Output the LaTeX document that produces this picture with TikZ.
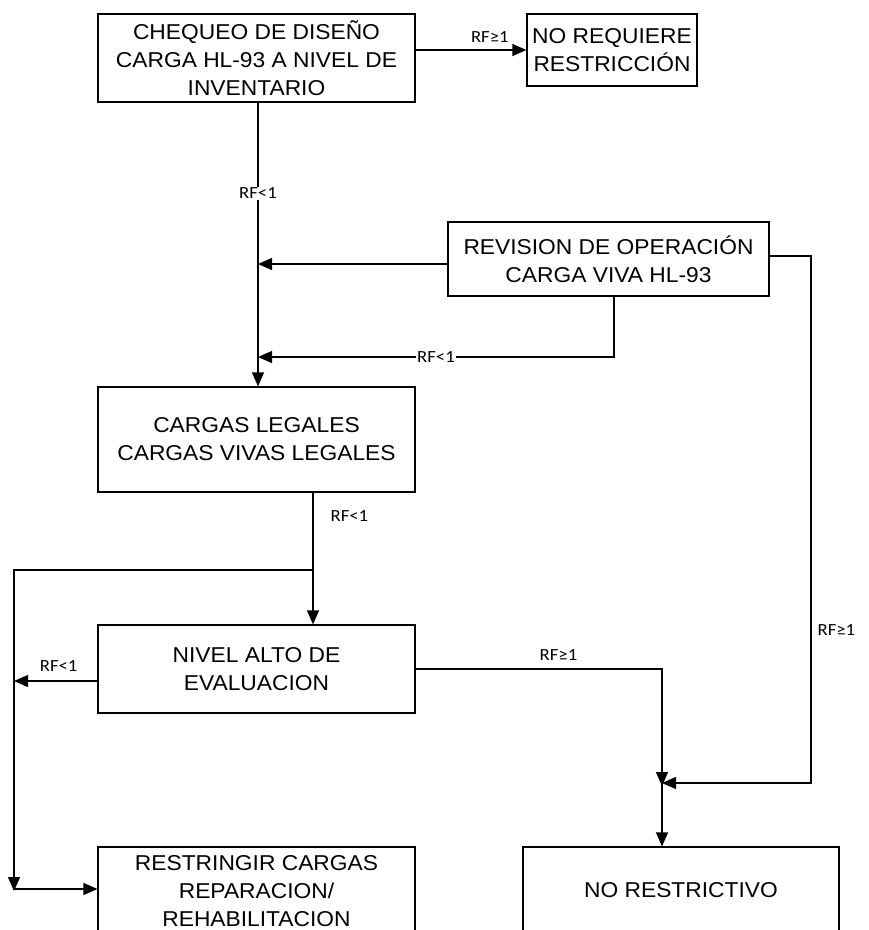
\documentclass[tikz,border=0pt]{standalone}
\usepackage{fontspec}
\setmainfont{Liberation Sans}
\newfontfamily\boxfont[FakeStretch=1.06]{Liberation Sans}
\newfontfamily\lblfont[FakeStretch=1.1]{Carlito}
\usetikzlibrary{arrows.meta}
\begin{document}
\begin{tikzpicture}[x=1pt,y=-1pt,line width=1.2pt,
  box/.style={draw,line width=1.2pt,inner sep=0pt,align=center,font=\boxfont\fontsize{21.5}{28}\selectfont},
  lbl/.style={font=\lblfont\fontsize{17}{17}\selectfont,inner sep=1pt},
  arr/.style={-{Triangle[length=14pt,width=12pt]}}]
\useasboundingbox (0,0) rectangle (869,930);
\clip (0,0) rectangle (869,930);
% boxes
\node[box,minimum width=317pt,minimum height=88pt] (chk) at (256.5,58) {CHEQUEO DE DISEÑO\\CARGA HL-93 A NIVEL DE\\INVENTARIO};
\node[box,minimum width=170pt,minimum height=72pt] (noreq) at (612,50) {NO REQUIERE\\RESTRICCIÓN};
\node[box,minimum width=321pt,minimum height=74pt] (rev) at (608.5,259) {REVISION DE OPERACIÓN\\CARGA VIVA HL-93};
\node[box,minimum width=317pt,minimum height=105pt] (leg) at (256.5,439.5) {CARGAS LEGALES\\CARGAS VIVAS LEGALES};
\node[box,minimum width=317pt,minimum height=88pt] (niv) at (256.5,669) {NIVEL ALTO DE\\EVALUACION};
\node[box,minimum width=317pt,minimum height=88pt] (res) at (256.5,891) {RESTRINGIR CARGAS\\REPARACION/\\REHABILITACION};
\node[box,minimum width=316pt,minimum height=86pt] (nor) at (681,890) {NO RESTRICTIVO};
% junctions
\coordinate (j1) at (258,264);
\coordinate (j2) at (258,357);
\coordinate (c1) at (811,256);
\coordinate (j3) at (662,783);
\coordinate (j4) at (313,570);
\coordinate (j5) at (14,889);
\coordinate (j6) at (14,681);
% connectors
\draw[arr] (chk.east |- noreq.west) -- node[lbl,above=6pt,pos=0.67] {RF≥1} (noreq.west);
\draw[arr] (chk.south -| j1) -- node[lbl,fill=white,pos=0.32] {RF<1} (leg.north -| j1);
\draw[arr] (rev.west |- j1) -- (j1);
\draw[arr] ([xshift=5.5pt]rev.south) |- node[lbl,fill=white,pos=0.75] {RF<1} (j2);
\draw[arr] (rev.east |- c1) -- (c1) -- node[lbl,right=5pt,pos=0.71] {RF≥1} (c1 |- j3) -- (j3);
\draw[arr] (niv.east) -| node[lbl,above=7pt,pos=0.29] {RF≥1} ([yshift=-3pt]j3);
\draw[arr] (j3) -- (j3 |- nor.north);
\draw[arr] (leg.south -| j4) -- node[lbl,right=16pt,pos=0.18] {RF<1} (niv.north -| j4);
\draw[arr] (j4) -| ([yshift=-2pt]j5);
\draw[arr] (j5) -- (res.west |- j5);
\draw[arr] (niv.west |- j6) -- node[lbl,above=8pt,xshift=3pt] {RF<1} (j6);
\end{tikzpicture}
\end{document}
